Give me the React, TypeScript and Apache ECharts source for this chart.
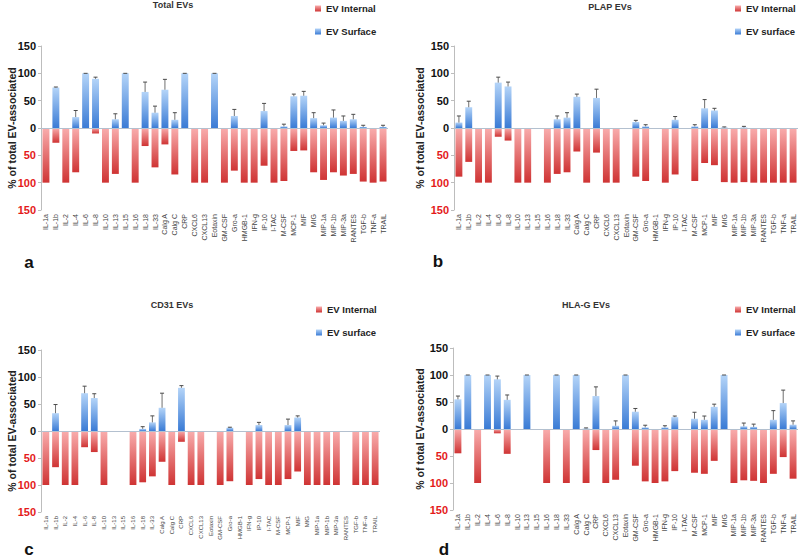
import React, { useEffect, useRef } from "react";
import * as echarts from "echarts";

const categories = [
  "IL-1a", "IL-1b", "IL-2", "IL-4", "IL-6", "IL-8", "IL-10", "IL-13", "IL-15", "IL-16",
  "IL-18", "IL-33", "Calg A", "Calg C", "CRP", "CXCL6", "CXCL13", "Eotaxin", "GM-CSF", "Gro-a",
  "HMGB-1", "IFN-g", "IP-10", "I-TAC", "M-CSF", "MCP-1", "MIF", "MIG", "MIP-1a", "MIP-1b",
  "MIP-3a", "RANTES", "TGF-b", "TNF-a", "TRAIL",
];

const yTicks = [-150, -100, -50, 0, 50, 100, 150];

// Panel a: Total EVs
const totalSurface = [0, 74, 0, 20, 100, 90, 0, 16, 100, 0, 66, 28, 70, 15, 100, 0, 0, 100, 0, 22, 0, 0, 31, 0, 3, 58, 59, 18, 5, 19, 13, 16, 2, 0, 2];
const totalInternal = [100, 27, 100, 81, 1, 10, 100, 84, 0, 100, 33, 72, 30, 85, 0, 100, 100, 0, 100, 78, 100, 100, 69, 100, 97, 42, 41, 81, 95, 81, 87, 84, 98, 100, 98];
const totalSurfaceErr = [0, 1, 0, 12, 0, 3, 0, 10, 0, 0, 18, 12, 19, 13, 0, 0, 0, 0, 0, 12, 0, 0, 14, 0, 4, 4, 8, 10, 4, 14, 9, 9, 3, 0, 3];

// Panel b: PLAP EVs
const plapSurface = [10, 38, 0, 0, 83, 76, 0, 0, 0, 0, 16, 19, 57, 0, 55, 0, 0, 0, 11, 3, 0, 0, 15, 0, 3, 36, 32, 1, 0, 1, 0, 0, 0, 0, 0];
const plapInternal = [89, 62, 100, 100, 16, 23, 100, 100, 1, 100, 84, 81, 43, 100, 45, 100, 100, 1, 89, 97, 1, 100, 85, 1, 97, 64, 68, 99, 100, 99, 100, 100, 100, 100, 100];
const plapSurfaceErr = [12, 11, 0, 0, 10, 8, 0, 0, 0, 0, 6, 9, 5, 0, 16, 0, 0, 0, 3, 3, 0, 0, 6, 0, 3, 16, 4, 1, 0, 2, 0, 0, 0, 0, 0];

// Panel c: CD31 EVs
const cd31Surface = [0, 33, 0, 0, 70, 61, 0, 0, 0, 0, 4, 16, 43, 0, 80, 0, 0, 0, 0, 6, 0, 0, 11, 0, 0, 11, 25, 0, 0, 0, 0, 0, 0, 0, 0];
const cd31Internal = [100, 67, 100, 100, 30, 39, 100, 1, 1, 100, 95, 84, 57, 100, 20, 100, 100, 1, 100, 93, 1, 100, 89, 100, 100, 89, 75, 100, 100, 100, 100, 1, 100, 100, 100];
const cd31SurfaceErr = [0, 16, 0, 0, 13, 8, 0, 0, 0, 0, 4, 12, 27, 0, 4, 0, 0, 0, 0, 1, 0, 0, 5, 0, 0, 11, 3, 0, 0, 0, 0, 0, 0, 0, 0];

// Panel d: HLA-G EVs
const hlagSurface = [55, 100, 0, 100, 92, 54, 0, 100, 0, 0, 100, 0, 100, 1, 61, 0, 6, 100, 32, 3, 0, 3, 22, 0, 19, 17, 41, 100, 0, 5, 4, 0, 17, 48, 8];
const hlagInternal = [45, 0, 100, 0, 8, 46, 1, 0, 1, 100, 0, 100, 0, 100, 39, 100, 94, 0, 68, 97, 100, 97, 78, 1, 81, 83, 59, 0, 100, 95, 96, 100, 83, 52, 92];
const hlagSurfaceErr = [6, 0, 0, 0, 6, 9, 0, 0, 0, 0, 0, 0, 0, 1, 17, 0, 9, 0, 6, 4, 0, 3, 2, 0, 12, 7, 5, 0, 0, 6, 5, 0, 17, 24, 7];

const panelTitles = ["Total EVs", "PLAP EVs", "CD31 EVs", "HLA-G EVs"];
const panelLetters = ["a", "b", "c", "d"];
const surfaceNames = ["EV Surface", "EV surface", "EV surface", "EV surface"];
const internalName = "EV Internal";

const FONT = "'Liberation Sans', Arial, sans-serif";

const blueGrad = () =>
  new echarts.graphic.LinearGradient(0, 0, 0, 1, [
    { offset: 0, color: "#b4d4f8" },
    { offset: 1, color: "#3a7bd5" },
  ]);
const redGrad = () =>
  new echarts.graphic.LinearGradient(0, 0, 0, 1, [
    { offset: 0, color: "#f9adad" },
    { offset: 1, color: "#cf3434" },
  ]);

export default function App() {
  const ref = useRef<HTMLDivElement>(null);

  useEffect(() => {
    if (!ref.current) return;
    const chart = echarts.init(ref.current, null, { renderer: "svg" });

    const panels = [
      { surface: totalSurface, internal: totalInternal, err: totalSurfaceErr },
      { surface: plapSurface, internal: plapInternal, err: plapSurfaceErr },
      { surface: cd31Surface, internal: cd31Internal, err: cd31SurfaceErr },
      { surface: hlagSurface, internal: hlagInternal, err: hlagSurfaceErr },
    ];

    const grids = [
      { left: 41, top: 46, width: 347, height: 164 },
      { left: 454, top: 46, width: 344, height: 164 },
      { left: 41, top: 350, width: 339, height: 162 },
      { left: 453, top: 348, width: 345, height: 162 },
    ];

    const titlePos = [
      [173, 5],
      [610, 7],
      [172, 305],
      [586, 305],
    ];
    const legendPos = [
      [315, 2],
      [735, 2],
      [316, 303],
      [735, 303],
    ];
    const letterPos = [
      [29, 262],
      [438, 261],
      [29, 549],
      [444, 549],
    ];
    const yNamePos = [
      [12, 128],
      [420, 128],
      [12, 431],
      [420, 429],
    ];

    const xAxes = grids.map((_, i) => ({
      type: "category",
      gridIndex: i,
      data: categories,
      position: "bottom",
      axisLine: { show: false, onZero: false },
      axisTick: { show: false },
      axisLabel: {
        interval: 0,
        rotate: 90,
        fontSize: i === 2 ? 6 : 7,
        color: "#444",
        margin: 4,
        fontFamily: FONT,
      },
    }));

    const yAxes = grids.map((_, i) => ({
      type: "value",
      gridIndex: i,
      min: yTicks[0],
      max: yTicks[yTicks.length - 1],
      interval: 50,
      splitLine: { show: false },
      axisLine: { show: true, lineStyle: { color: "#bdbdbd" } },
      axisTick: { show: true, length: 3, lineStyle: { color: "#bdbdbd" } },
      axisLabel: {
        formatter: (v: number) => String(Math.abs(v)),
        color: (v: any) => (Number(v) < 0 ? "#e41a1a" : "#111"),
        fontWeight: "bold",
        fontSize: 11,
        margin: 5,
        fontFamily: FONT,
      },
    }));

    const series: any[] = [];
    panels.forEach((p, i) => {
      series.push({
        type: "bar",
        name: internalName,
        xAxisIndex: i,
        yAxisIndex: i,
        data: p.internal.map((v) => -v),
        barWidth: "70%",
        barGap: "-100%",
        itemStyle: { color: redGrad() },
      });
      series.push({
        type: "bar",
        name: surfaceNames[i],
        xAxisIndex: i,
        yAxisIndex: i,
        data: p.surface,
        barWidth: "70%",
        barGap: "-100%",
        itemStyle: { color: blueGrad() },
        markLine: {
          silent: true,
          symbol: "none",
          label: { show: false },
          lineStyle: { color: "#b3c0cf", width: 1, type: "solid" },
          data: [{ yAxis: 0 }],
        },
      });
      const errData: number[][] = [];
      p.surface.forEach((v, k) => {
        if (v > 0) errData.push([k, v, v + p.err[k]]);
      });
      series.push({
        type: "custom",
        xAxisIndex: i,
        yAxisIndex: i,
        silent: true,
        data: errData,
        encode: { x: 0, y: [1, 2] },
        z: 5,
        renderItem: (params: any, api: any) => {
          const x = api.value(0);
          const lo = api.coord([x, api.value(1)]);
          const hi = api.coord([x, api.value(2)]);
          const hw = 2;
          return {
            type: "group",
            children: [
              {
                type: "line",
                shape: { x1: lo[0], y1: lo[1], x2: hi[0], y2: hi[1] },
                style: { stroke: "#4a4a4a", lineWidth: 0.8 },
              },
              {
                type: "line",
                shape: { x1: hi[0] - hw, y1: hi[1], x2: hi[0] + hw, y2: hi[1] },
                style: { stroke: "#4a4a4a", lineWidth: 1 },
              },
            ],
          };
        },
      });
    });

    const legends = legendPos.map((pos, i) => ({
      left: pos[0],
      top: pos[1],
      padding: 0,
      orient: "vertical",
      data: [internalName, surfaceNames[i]],
      icon: "rect",
      itemWidth: 6,
      itemHeight: 6,
      itemGap: 10,
      selectedMode: false,
      textStyle: {
        fontSize: 9.5,
        fontWeight: "bold",
        color: "#222",
        fontFamily: FONT,
        lineHeight: 13,
      },
    }));

    const graphics: any[] = [];
    panelTitles.forEach((t, i) => {
      graphics.push({
        type: "text",
        x: titlePos[i][0],
        y: titlePos[i][1],
        style: {
          text: t,
          fontSize: 9,
          fontWeight: "bold",
          fill: "#333",
          fontFamily: FONT,
          textAlign: "center",
          textVerticalAlign: "middle",
        },
      });
      graphics.push({
        type: "text",
        x: letterPos[i][0],
        y: letterPos[i][1],
        style: {
          text: panelLetters[i],
          fontSize: 17,
          fontWeight: "bold",
          fill: "#111",
          fontFamily: FONT,
          textAlign: "center",
          textVerticalAlign: "middle",
        },
      });
      graphics.push({
        type: "text",
        x: yNamePos[i][0],
        y: yNamePos[i][1],
        rotation: Math.PI / 2,
        style: {
          text: "% of total EV-associated",
          fontSize: 10.5,
          fontWeight: "bold",
          fill: "#222",
          fontFamily: FONT,
          textAlign: "center",
          textVerticalAlign: "middle",
        },
      });
    });

    chart.setOption({
      animation: false,
      backgroundColor: "#ffffff",
      textStyle: { fontFamily: FONT },
      grid: grids,
      xAxis: xAxes,
      yAxis: yAxes,
      legend: legends,
      series,
      graphic: graphics,
    });

    return () => chart.dispose();
  }, []);

  return (
    <div
      ref={ref}
      style={{ position: "absolute", left: 0, top: 0, width: 800, height: 560, background: "#fff" }}
    />
  );
}
